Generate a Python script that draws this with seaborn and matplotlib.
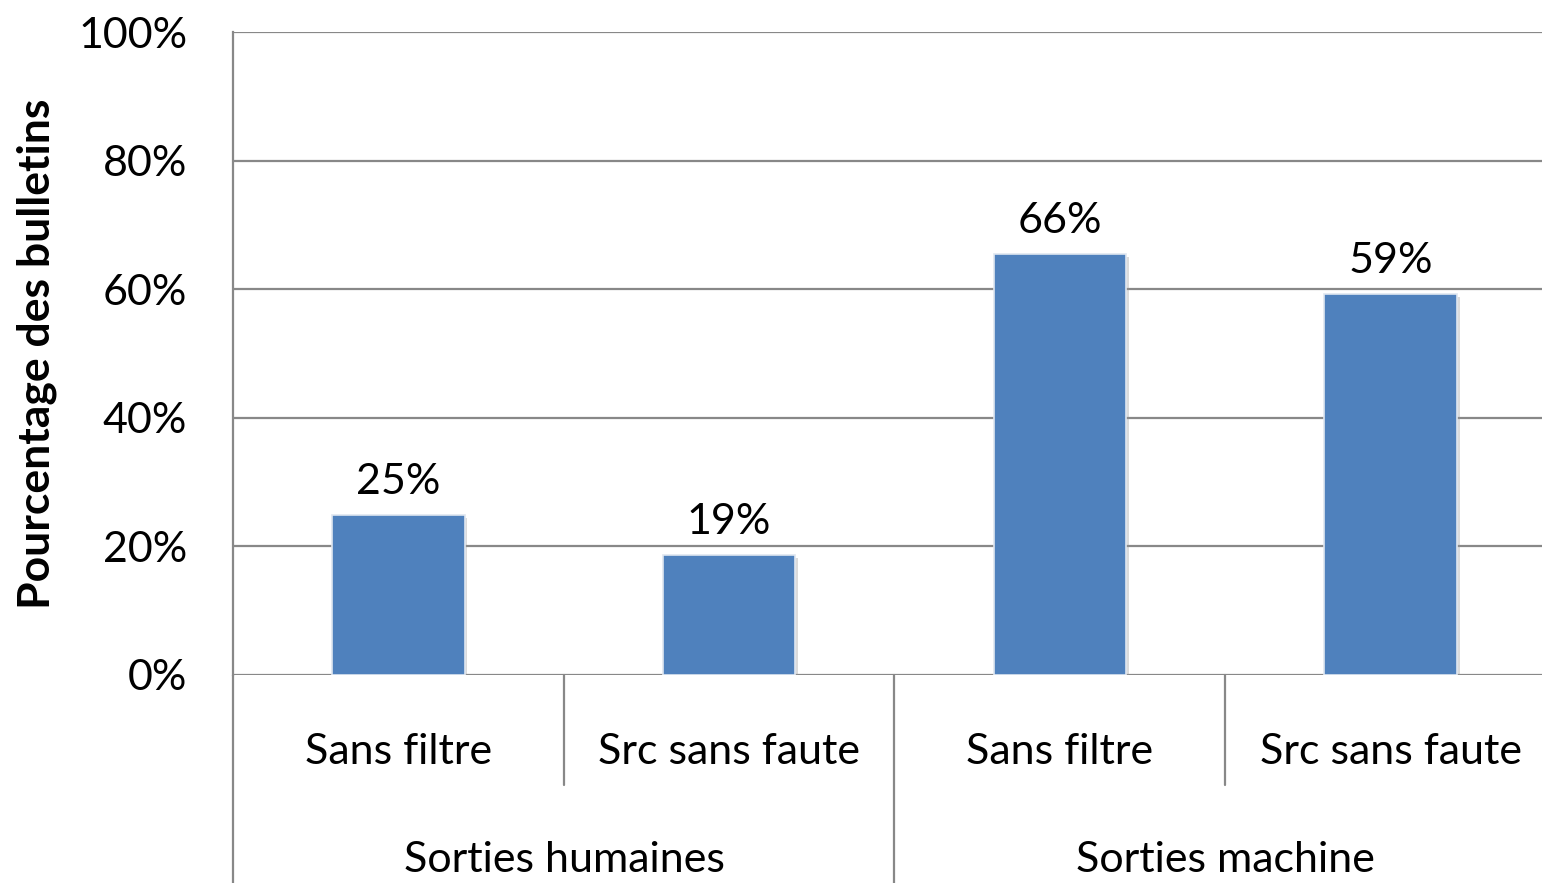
import pandas as pd
import matplotlib.pyplot as plt
import seaborn as sns
from matplotlib.lines import Line2D
from matplotlib.ticker import PercentFormatter
import matplotlib.patheffects as pe

# data
groups = ["Sorties humaines", "Sorties humaines", "Sorties machine", "Sorties machine"]
subs = ["Sans filtre", "Src sans faute", "Sans filtre", "Src sans faute"]
values = [0.249, 0.187, 0.655, 0.592]
labels = ["25%", "19%", "66%", "59%"]
yticks = [0, 0.2, 0.4, 0.6, 0.8, 1.0]

df = pd.DataFrame({"group": groups, "sub": subs, "value": values})
df["key"] = df["group"] + " | " + df["sub"]

sns.set_style("white")
plt.rcParams["font.family"] = ["Lato", "DejaVu Sans"]
plt.rcParams["text.color"] = "black"
plt.rcParams["axes.labelcolor"] = "black"
plt.rcParams["xtick.color"] = "black"
plt.rcParams["ytick.color"] = "black"

W, H = 1542, 883
fig = plt.figure(figsize=(W / 100, H / 100), dpi=100)
# axes runs slightly past the right edge, like the source chart
ax = fig.add_axes([233 / W, 1 - 675 / H, (1556 - 233) / W, (675 - 32) / H])

grid_col = "#888888"
fs = 31
sns.barplot(data=df, x="key", y="value", color="#4F81BD", saturation=1,
            width=0.4, ax=ax, edgecolor="#dfe6f0", linewidth=1.2)
for p in ax.patches:
    p.set_path_effects([pe.SimplePatchShadow(offset=(2, -2), shadow_rgbFace="#999999", alpha=0.35),
                        pe.Normal()])

ax.set_ylim(0, 1)
ax.set_xlim(-0.5, 3.5)
ax.set_yticks(yticks)
ax.yaxis.set_major_formatter(PercentFormatter(1.0, decimals=0))
ax.grid(axis="y", color=grid_col, linewidth=1.6)
ax.set_axisbelow(True)
for s in ["top", "right", "bottom"]:
    ax.spines[s].set_visible(False)
ax.spines["left"].set_color(grid_col)
ax.spines["left"].set_linewidth(1.6)
ax.tick_params(axis="y", length=11, width=1.6, color=grid_col, labelsize=fs, pad=22,
               labelcolor="black")
ax.tick_params(axis="x", length=0, labelsize=fs, pad=42, labelcolor="black")
ax.set_xticks(range(4))
ax.set_xticklabels(subs)
ax.set_xlabel("")
ax.set_ylabel("Pourcentage des bulletins", fontsize=32, fontweight="bold", labelpad=15)

ax.bar_label(ax.containers[0], labels=labels, fontsize=fs, padding=10)

# multi-level category axis separators (figure pixel coords)
def vline(x, y0, y1):
    fig.add_artist(Line2D([x / W, x / W], [1 - y0 / H, 1 - y1 / H], color=grid_col,
                          linewidth=1.6, transform=fig.transFigure))

vline(233, 675, 883)
vline(564, 675, 785)
vline(894, 675, 883)
vline(1225, 675, 785)

for g, xc in [("Sorties humaines", 564), ("Sorties machine", 1225)]:
    fig.text(xc / W, 1 - 860 / H, g, ha="center", va="center", fontsize=fs)

fig.savefig("out.png", dpi=100)
